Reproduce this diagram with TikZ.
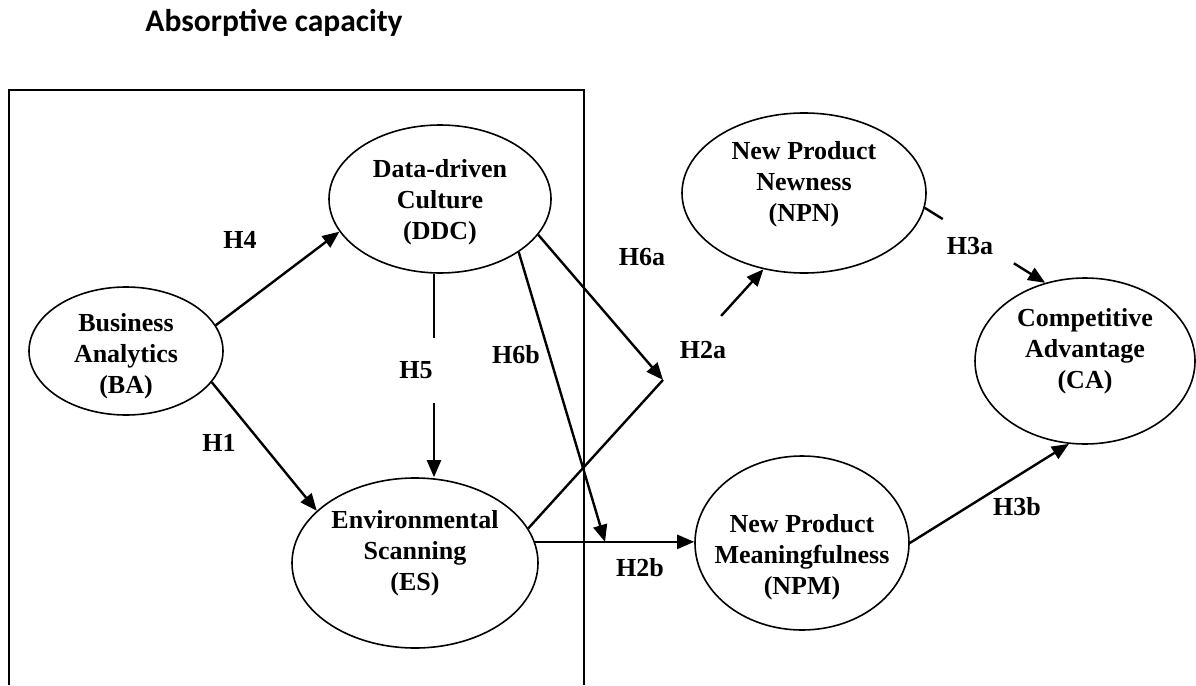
\documentclass[tikz,border=0pt]{standalone}
\usepackage{fontspec}
\setmainfont{Liberation Serif}
\newfontfamily\titlefont{Carlito}
\usetikzlibrary{arrows.meta,shapes.geometric,calc}
\begin{document}
\begin{tikzpicture}[x=1pt,y=-1pt,
  ell/.style={draw,ellipse,line width=1.6pt,inner sep=0pt},
  txt/.style={font=\fontsize{26}{31}\selectfont\bfseries,align=center,inner sep=0pt},
  lbl/.style={font=\fontsize{26}{31}\selectfont\bfseries,inner sep=0pt},
  arr/.style={line width=2.4pt,-{Triangle[length=17pt,width=14pt]}},
  ln/.style={line width=2.4pt}]
\useasboundingbox (0,0) rectangle (1196,685);
% title
\node[font=\titlefont\fontsize{31.5}{37}\selectfont\bfseries,anchor=base,inner sep=0pt] (title) at (274,32) {Absorptive capacity};
% frame
\draw[line width=1.6pt] (9,685) -- (9,90) -- (584,90) -- (584,685);
% constructs
\node[ell,minimum width=194pt,minimum height=128pt,label={[txt,yshift=-5pt]center:{Business\\Analytics\\(BA)}}] (ba) at (126,351) {};
\node[ell,minimum width=222pt,minimum height=148pt,label={[txt,yshift=-3pt]center:{Data-driven\\Culture\\(DDC)}}] (ddc) at (440,199) {};
\node[ell,minimum width=246pt,minimum height=170pt,label={[txt,yshift=10pt]center:{Environmental\\Scanning\\(ES)}}] (es) at (415,563) {};
\node[ell,minimum width=244pt,minimum height=160pt,label={[txt,yshift=9pt]center:{New Product\\Newness\\(NPN)}}] (npn) at (804,193) {};
\node[ell,minimum width=214pt,minimum height=174pt,label={[txt,yshift=-14pt]center:{New Product\\Meaningfulness\\(NPM)}}] (npm) at (802,543) {};
\node[ell,minimum width=220pt,minimum height=166pt,label={[txt,yshift=10pt]center:{Competitive\\Advantage\\(CA)}}] (ca) at (1085,361) {};
% labels
\node[lbl] (h4) at (240,240) {H4};
\node[lbl] (h1) at (219,443) {H1};
\node[lbl] (h5) at (416,370) {H5};
\node[lbl] (h6b) at (516,355) {H6b};
\node[lbl] (h6a) at (642,257) {H6a};
\node[lbl] (h2a) at (703,350) {H2a};
\node[lbl] (h3a) at (970,246) {H3a};
\node[lbl] (h2b) at (640,568) {H2b};
\node[lbl] (h3b) at (1017,507) {H3b};
% helper points
\coordinate (m1) at ($(es.17)!0.573!(npn.242)$);
\coordinate (g1) at ($(es.17)!0.82!(npn.242)$);
\coordinate (g2) at ($(npn.-7)!0.15!(ca.117)$);
\coordinate (g3) at ($(npn.-7)!0.74!(ca.117)$);
\coordinate (g4) at (434,338);
\coordinate (g5) at (434,403);
\coordinate (m2) at ($(es.10)!0.44!(es.10 -| npm.west)$);
% connectors
\draw[arr] (ba.16) -- (ddc.198);
\draw[arr] (ba.-20) -- (es.152);
\draw[ln] (g4 |- ddc.south) -- (g4);
\draw[arr] (g5) -- (g5 |- es.north);
\draw[ln] (es.17) -- (m1);
\draw[arr] (g1) -- (npn.242);
\draw[arr] (ddc.-20) -- (m1);
\draw[arr] (es.10) -- (es.10 -| npm.west);
\draw[arr] (ddc.-34) -- (m2);
\draw[ln] (npn.-7) -- (g2);
\draw[arr] (g3) -- (ca.117);
\draw[arr] (npm.east) -- (ca.259);
\end{tikzpicture}
\end{document}
